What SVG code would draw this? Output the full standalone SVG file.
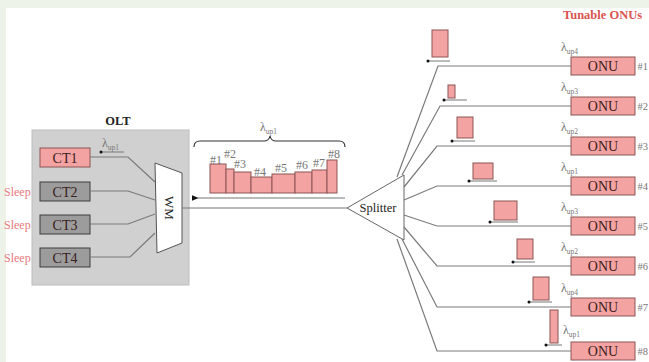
<svg xmlns="http://www.w3.org/2000/svg" width="649" height="362" viewBox="0 0 649 362">
<style>
.t{font-family:"Liberation Serif","Times New Roman",serif}
.ln{stroke:#7a7a7a;stroke-width:1.2;fill:none}
.pk{fill:#f4a3a3;stroke:#8c5555;stroke-width:1}
.gr{fill:#9c9c9c;stroke:#3c3c3c;stroke-width:1}
.box{font-size:14px;fill:#3a2020;text-anchor:middle}
.lam{font-size:12px;fill:#777}
.sub{font-size:7.5px}
.hash{font-size:10.5px;fill:#777}
.sleep{font-size:12px;fill:#e87a7c}
.bl{font-size:12px;fill:#777}
.ar{stroke:#777;stroke-width:1}
</style>
<defs>
<marker id="ah" viewBox="0 0 10 10" refX="1" refY="5" markerWidth="6" markerHeight="6" orient="auto-start-reverse">
<path d="M10,1 L0,5 L10,9 z" fill="#111"/>
</marker>
</defs>
<rect x="0" y="0" width="649" height="362" fill="#edf3e9"/>
<rect x="6" y="8" width="643" height="354" fill="#fff"/>

<g id="olt">
<rect x="32" y="130" width="157" height="155" fill="#d0d0d0" stroke="#bcbcbc"/>
<text class="t" x="118" y="125" font-size="12.5" font-weight="bold" text-anchor="middle" fill="#222">OLT</text>
</g>
<g id="ct1"><rect class="pk" x="40" y="148" width="50" height="19"/><text class="t box" x="65" y="162.5">CT1</text></g>
<g id="ct2"><rect class="gr" x="40" y="182" width="50" height="19"/><text class="t box" x="65" y="196.5" fill="#222">CT2</text></g>
<g id="ct3"><rect class="gr" x="40" y="215" width="50" height="19"/><text class="t box" x="65" y="229.5" fill="#222">CT3</text></g>
<g id="ct4"><rect class="gr" x="40" y="248" width="50" height="19"/><text class="t box" x="65" y="262.5" fill="#222">CT4</text></g>
<g id="sleep">
<text class="t sleep" x="4" y="196">Sleep</text>
<text class="t sleep" x="4" y="229">Sleep</text>
<text class="t sleep" x="4" y="262">Sleep</text>
</g>
<g id="wm">
<path d="M155,163 L182,173 L182,243 L157,253 Z" fill="#fff" stroke="#555" stroke-width="1"/>
<text class="t" x="169" y="208" font-size="13" fill="#222" text-anchor="middle" dominant-baseline="central" transform="rotate(90 169 208)">WM</text>
</g>
<g id="splitter">
<path d="M347,208 L404,175 L404,240 Z" fill="#fff" stroke="#666" stroke-width="1"/>
<text class="t" x="378" y="212" font-size="12.5" fill="#222" text-anchor="middle">Splitter</text>
</g>

<g id="onus">
<g id="onu1"><rect class="pk" x="571" y="57" width="64" height="18"/><text class="t box" x="603" y="71">ONU</text><text class="t hash" x="637.5" y="70">#1</text><text class="t lam" x="561" y="51">λ<tspan class="sub" dy="3">up4</tspan></text></g>
<g id="onu2"><rect class="pk" x="571" y="97" width="64" height="18"/><text class="t box" x="603" y="111">ONU</text><text class="t hash" x="637.5" y="110">#2</text><text class="t lam" x="561" y="91">λ<tspan class="sub" dy="3">up3</tspan></text></g>
<g id="onu3"><rect class="pk" x="571" y="137" width="64" height="18"/><text class="t box" x="603" y="151">ONU</text><text class="t hash" x="637.5" y="150">#3</text><text class="t lam" x="561" y="131">λ<tspan class="sub" dy="3">up2</tspan></text></g>
<g id="onu4"><rect class="pk" x="571" y="177" width="64" height="18"/><text class="t box" x="603" y="191">ONU</text><text class="t hash" x="637.5" y="190">#4</text><text class="t lam" x="561" y="171">λ<tspan class="sub" dy="3">up1</tspan></text></g>
<g id="onu5"><rect class="pk" x="571" y="217" width="64" height="18"/><text class="t box" x="603" y="231">ONU</text><text class="t hash" x="637.5" y="230">#5</text><text class="t lam" x="561" y="211">λ<tspan class="sub" dy="3">up3</tspan></text></g>
<g id="onu6"><rect class="pk" x="571" y="257" width="64" height="18"/><text class="t box" x="603" y="271">ONU</text><text class="t hash" x="637.5" y="270">#6</text><text class="t lam" x="561" y="251">λ<tspan class="sub" dy="3">up2</tspan></text></g>
<g id="onu7"><rect class="pk" x="571" y="298" width="64" height="18"/><text class="t box" x="603" y="312">ONU</text><text class="t hash" x="637.5" y="311">#7</text><text class="t lam" x="561" y="292">λ<tspan class="sub" dy="3">up4</tspan></text></g>
<g id="onu8"><rect class="pk" x="571" y="342" width="64" height="18"/><text class="t box" x="603" y="356">ONU</text><text class="t hash" x="637.5" y="355">#8</text><text class="t lam" x="563" y="334">λ<tspan class="sub" dy="3">up1</tspan></text></g>
</g>
<text class="t" x="563" y="19" font-size="12.5" font-weight="bold" fill="#d9534f">Tunable ONUs</text>

<g id="connectors">
<path class="ln" d="M90,157 H128 L155,182"/>
<path class="ln" d="M90,191 H128 L155,200"/>
<path class="ln" d="M90,224 H128 L155,214"/>
<path class="ln" d="M90,257 H130 L155,233"/>
<path class="ln" d="M182,208 H347"/>
<path class="ln" d="M397,177 L438,66 H571"/>
<path class="ln" d="M402,175 L440,106 H571"/>
<path class="ln" d="M404,187 L437,146 H571"/>
<path class="ln" d="M404,200 L437,186 H571"/>
<path class="ln" d="M404,215 L437,226 H571"/>
<path class="ln" d="M404,227 L437,266 H571"/>
<path class="ln" d="M402,239 L437,307 H571"/>
<path class="ln" d="M397,239 L437,351 H571"/>
</g>

<g id="olt-lambda">
<text class="t lam" x="102" y="147">λ<tspan class="sub" dy="3">up1</tspan></text>
<line class="ar" x1="101" y1="152" x2="124" y2="152"/>
<circle cx="101" cy="152" r="1.5" fill="#111"/>
</g>

<g id="burst">
<path d="M194,147 Q194,141 200,141 L264,141 Q269,141 270,136 Q271,141 276,141 L339,141 Q345,141 345,147" fill="none" stroke="#333" stroke-width="1.2"/>
<text class="t lam" x="260" y="131">λ<tspan class="sub" dy="3">up1</tspan></text>
<rect class="pk" x="210" y="164" width="16" height="29"/>
<rect class="pk" x="226" y="169" width="8" height="24"/>
<rect class="pk" x="234" y="172" width="17" height="21"/>
<rect class="pk" x="251" y="177" width="21" height="16"/>
<rect class="pk" x="272" y="174" width="23" height="19"/>
<rect class="pk" x="295" y="172" width="17" height="21"/>
<rect class="pk" x="312" y="170" width="15" height="23"/>
<rect class="pk" x="327" y="160" width="10" height="33"/>
<text class="t bl" x="210" y="164">#1</text>
<text class="t bl" x="224" y="158">#2</text>
<text class="t bl" x="234" y="168">#3</text>
<text class="t bl" x="254" y="176">#4</text>
<text class="t bl" x="275" y="172">#5</text>
<text class="t bl" x="296" y="169">#6</text>
<text class="t bl" x="313" y="167">#7</text>
<text class="t bl" x="328" y="158">#8</text>
<line x1="198" y1="198" x2="345" y2="198" stroke="#777" stroke-width="1.2" marker-start="url(#ah)"/>
</g>

<g id="onu-bursts">
<rect class="pk" x="432" y="30" width="16" height="27"/><line class="ar" x1="428" y1="61" x2="450" y2="61"/><circle cx="428" cy="61" r="1.5" fill="#111"/>
<rect class="pk" x="448" y="85" width="7" height="13"/><line class="ar" x1="444" y1="100" x2="467" y2="100"/><circle cx="444" cy="100" r="1.5" fill="#111"/>
<rect class="pk" x="457" y="117" width="16" height="21"/><line class="ar" x1="452" y1="141" x2="475" y2="141"/><circle cx="452" cy="141" r="1.5" fill="#111"/>
<rect class="pk" x="473" y="163" width="20" height="16"/><line class="ar" x1="469" y1="181" x2="497" y2="181"/><circle cx="469" cy="181" r="1.5" fill="#111"/>
<rect class="pk" x="494" y="201" width="23" height="19"/><line class="ar" x1="490" y1="222" x2="518" y2="222"/><circle cx="490" cy="222" r="1.5" fill="#111"/>
<rect class="pk" x="517" y="239" width="16" height="20"/><line class="ar" x1="513" y1="262" x2="535" y2="262"/><circle cx="513" cy="262" r="1.5" fill="#111"/>
<rect class="pk" x="533" y="277" width="16" height="23"/><line class="ar" x1="529" y1="302" x2="552" y2="302"/><circle cx="529" cy="302" r="1.5" fill="#111"/>
<rect class="pk" x="550" y="310" width="8" height="33"/><line class="ar" x1="546" y1="345" x2="562" y2="345"/><circle cx="546" cy="345" r="1.5" fill="#111"/>
</g>
</svg>
